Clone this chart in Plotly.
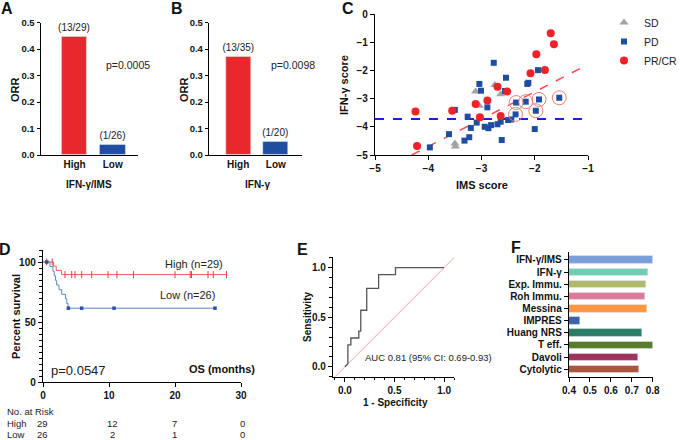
import plotly.graph_objects as go

# ---- data ----
# A / B: objective response rate
orr_groups = ["High", "Low"]
orr_a = [0.448, 0.0385]
orr_a_labels = ["(13/29)", "(1/26)"]
orr_b = [0.371, 0.05]
orr_b_labels = ["(13/35)", "(1/20)"]

# C: IMS score vs IFN-g score
sd_x = [-3.50, -3.49, -3.04, -3.11, -2.75, -2.64]
sd_y = [-4.59, -4.70, -3.25, -2.75, -2.52, -2.85]
pr_x = [-4.24, -4.21, -3.55, -3.11, -3.03, -2.89, -2.70, -2.52, -2.64, -2.08, -1.81, -1.97, -1.70, -1.64]
pr_y = [-3.46, -4.68, -3.43, -3.19, -3.66, -3.07, -2.58, -2.75, -3.62, -2.10, -1.99, -1.43, -0.68, -1.07]
pd_x = [-3.97, -3.50, -3.61, -3.32, -3.23, -3.26, -3.20, -3.09, -3.04, -3.01, -2.89, -2.94, -2.87, -2.77,
        -2.54, -2.56, -2.64, -2.70, -2.82, -2.50, -2.44, -2.62, -2.35, -2.36, -2.17, -1.92, -1.98, -1.54,
        -2.00, -2.14, -2.12, -1.94]
pd_y = [-4.73, -3.40, -4.26, -4.49, -4.37, -3.64, -4.04, -3.85, -2.48, -2.72, -3.31, -4.00, -4.05, -1.73,
        -2.26, -2.73, -3.82, -3.91, -3.94, -3.76, -3.74, -4.47, -3.14, -3.56, -3.11, -3.03, -3.43, -2.97,
        -4.08, -2.48, -2.44, -1.99]
circled_x = [-2.35, -2.36, -2.17, -1.92, -1.98, -1.54]
circled_y = [-3.14, -3.56, -3.11, -3.03, -3.43, -2.97]
fit_x = [-4.31, -1.0]
fit_y = [-5.0, -1.79]
cut_x = [-5.0, -1.0]
cut_y = [-3.72, -3.72]

# D: Kaplan-Meier OS
km_high_t = [0, 1.6, 2.0, 2.8, 27.8]
km_high_s = [100, 96.5, 93.0, 89.5, 89.5]
km_high_cens_t = [0.56, 1.4, 3.33, 4.35, 4.85, 5.86, 7.38, 9.85, 11.2, 13.7, 20.0, 22.3, 22.5, 25.0, 25.8, 27.8]
km_high_cens_s = [100, 100, 89.5, 89.5, 89.5, 89.5, 89.5, 89.5, 89.5, 89.5, 89.5, 89.5, 89.5, 89.5, 89.5, 89.5]
km_low_t = [0, 1.06, 1.5, 1.7, 1.9, 2.07, 2.42, 2.83, 3.4, 3.6, 3.8, 26.06]
km_low_s = [100, 96.2, 92.3, 88.5, 84.6, 80.8, 76.9, 73.1, 69.2, 65.4, 61.5, 61.5]
km_low_cens_t = [0.56, 3.84, 5.86, 10.76, 26.06]
km_low_cens_s = [100, 61.5, 61.5, 61.5, 61.5]
risk_high = ["29", "12", "7", "0"]
risk_low = ["26", "2", "1", "0"]

# E: ROC curve
roc_fpr = [0, 0.03, 0.03, 0.06, 0.06, 0.14, 0.14, 0.16, 0.16, 0.22, 0.22, 0.34, 0.34, 0.51, 0.51, 1.0]
roc_tpr = [0, 0.03, 0.22, 0.22, 0.29, 0.29, 0.36, 0.36, 0.57, 0.57, 0.79, 0.79, 0.93, 0.93, 1.0, 1.0]
diag = [-0.12, 1.1]

# F: AUC by signature
sig_names = ["IFN-γ/IMS", "IFN-γ", "Exp. Immu.", "Roh Immu.", "Messina", "IMPRES",
             "Huang NRS", "T eff.", "Davoli", "Cytolytic"]
sig_auc = [0.80, 0.779, 0.767, 0.763, 0.771, 0.453, 0.747, 0.80, 0.731, 0.736]
sig_colors = ["#7b9fd8", "#6fcdb1", "#b1b96e", "#dd7a9c", "#ff9642", "#3d62a6",
              "#2b7d66", "#5a7b2a", "#9e345e", "#a9563c"]

W, H = 680, 440
FONT = "Arial"


def px(x):
    return x / W


def py(y):
    return 1 - y / H


fig = go.Figure()

# A
fig.add_trace(go.Bar(x=orr_groups, y=orr_a, marker_color=["#e8282d", "#1f4ea0"], width=0.66,
                     text=orr_a_labels, textposition="outside", constraintext="none",
                     textfont=dict(size=10, color="#222"),
                     cliponaxis=False, xaxis="x", yaxis="y", showlegend=False))
# B
fig.add_trace(go.Bar(x=orr_groups, y=orr_b, marker_color=["#e8282d", "#1f4ea0"], width=0.665,
                     text=orr_b_labels, textposition="outside", constraintext="none",
                     textfont=dict(size=10, color="#222"),
                     cliponaxis=False, xaxis="x2", yaxis="y2", showlegend=False))

# C
fig.add_trace(go.Scatter(x=cut_x, y=cut_y, mode="lines", line=dict(color="#1f1fd6", width=2, dash="dash"),
                         xaxis="x3", yaxis="y3", showlegend=False))
fig.add_trace(go.Scatter(x=fit_x, y=fit_y, mode="lines", line=dict(color="#ff4a4a", width=1.5, dash="dash"),
                         xaxis="x3", yaxis="y3", showlegend=False))
fig.add_trace(go.Scatter(x=sd_x, y=sd_y, mode="markers", name="SD",
                         marker=dict(symbol="triangle-up", size=8, color="#a3a3a3"),
                         xaxis="x3", yaxis="y3"))
fig.add_trace(go.Scatter(x=pd_x, y=pd_y, mode="markers", name="PD",
                         marker=dict(symbol="square", size=6, color="#1f4ea0"),
                         xaxis="x3", yaxis="y3"))
fig.add_trace(go.Scatter(x=pr_x, y=pr_y, mode="markers", name="PR/CR",
                         marker=dict(symbol="circle", size=8, color="#ee2228"),
                         xaxis="x3", yaxis="y3"))
fig.add_trace(go.Scatter(x=circled_x, y=circled_y, mode="markers",
                         marker=dict(symbol="circle-open", size=14, color="#f08070", line=dict(width=1)),
                         xaxis="x3", yaxis="y3", showlegend=False))

# D
fig.add_trace(go.Scatter(x=km_high_t, y=km_high_s, mode="lines", line=dict(color="#f25a5a", width=1, shape="hv"),
                         xaxis="x4", yaxis="y4", showlegend=False))
fig.add_trace(go.Scatter(x=km_low_t, y=km_low_s, mode="lines", line=dict(color="#5a86c9", width=1, shape="hv"),
                         xaxis="x4", yaxis="y4", showlegend=False))
fig.add_trace(go.Scatter(x=km_high_cens_t, y=km_high_cens_s, mode="markers",
                         marker=dict(symbol="line-ns", size=5, line=dict(color="#f03c3c", width=1)),
                         xaxis="x4", yaxis="y4", showlegend=False, cliponaxis=False))
fig.add_trace(go.Scatter(x=km_low_cens_t, y=km_low_cens_s, mode="markers",
                         marker=dict(symbol="square", size=3.5, color="#2a52a3"),
                         xaxis="x4", yaxis="y4", showlegend=False, cliponaxis=False))

# E
fig.add_trace(go.Scatter(x=diag, y=diag, mode="lines", line=dict(color="#f4a0a0", width=1),
                         xaxis="x5", yaxis="y5", showlegend=False))
fig.add_trace(go.Scatter(x=roc_fpr, y=roc_tpr, mode="lines", line=dict(color="#555555", width=1.3),
                         xaxis="x5", yaxis="y5", showlegend=False))

# F
fig.add_trace(go.Bar(y=sig_names, x=sig_auc, orientation="h", marker_color=sig_colors, width=0.62,
                     xaxis="x6", yaxis="y6", showlegend=False))

tickfont = dict(family=FONT, size=10, color="#111", weight="bold")
ax = dict(showline=True, linecolor="black", linewidth=1.4, ticks="outside", ticklen=4, tickwidth=1.2,
          tickcolor="black", showgrid=False, zeroline=False, tickfont=tickfont, fixedrange=True)
small_tf = dict(tickfont, size=9.5)

fig.update_layout(
    width=W, height=H, margin=dict(l=0, r=0, t=0, b=0, autoexpand=False),
    paper_bgcolor="white", plot_bgcolor="white",
    font=dict(family=FONT, color="#111"),
    bargap=0,
    xaxis=dict(ax, domain=[px(40.7), px(138)], anchor="y", type="category", range=[-0.888, 1.662], ticks=""),
    yaxis=dict(ax, domain=[py(155), py(22.7)], anchor="x", range=[0, 0.5], dtick=0.1, tickformat=".1f",
               ticklen=3, tickfont=small_tf),
    xaxis2=dict(ax, domain=[px(209), px(302)], anchor="y2", type="category", range=[-0.777, 1.698], ticks=""),
    yaxis2=dict(ax, domain=[py(155), py(22.7)], anchor="x2", range=[0, 0.5], dtick=0.1, tickformat=".1f",
                ticklen=3, tickfont=small_tf),
    xaxis3=dict(ax, domain=[px(375), px(588)], anchor="y3", range=[-5, -1], dtick=1),
    yaxis3=dict(ax, domain=[py(155), py(14)], anchor="x3", range=[-5, 0], dtick=1),
    xaxis4=dict(ax, domain=[px(43), px(241)], anchor="y4", range=[0, 30], dtick=10),
    yaxis4=dict(ax, domain=[py(382), py(250)], anchor="x4", range=[0, 110], tickvals=[0, 50, 100],
                minor=dict(dtick=5, ticklen=2.5, ticks="outside", tickcolor="black")),
    xaxis5=dict(ax, domain=[px(333), px(454)], anchor="y5", range=[-0.12, 1.1], tickvals=[0, 0.5, 1.0],
                tickformat=".1f", minor=dict(dtick=0.1, tick0=0, ticklen=2.5, ticks="outside", tickcolor="black")),
    yaxis5=dict(ax, domain=[py(376.7), py(256.7)], anchor="x5", range=[-0.1, 1.11], tickvals=[0, 0.5, 1.0],
                tickformat=".1f", minor=dict(dtick=0.1, tick0=0, ticklen=2.5, ticks="outside", tickcolor="black")),
    xaxis6=dict(ax, domain=[px(569), px(652.7)], anchor="y6", range=[0.4, 0.8], dtick=0.1, tickformat=".1f"),
    yaxis6=dict(ax, domain=[py(376.7), py(251.7)], anchor="x6", type="category", range=[9.61, -0.68],
                tickmode="array", tickvals=sig_names),
    legend=dict(x=px(604), y=py(8), xanchor="left", yanchor="top", font=dict(size=10.5, color="#222"),
                bgcolor="rgba(0,0,0,0)", itemwidth=30, tracegroupgap=2),
)

ann = []


def text(x, y, s, size=10, bold=False, xanchor="center", angle=0, color="#111"):
    ann.append(dict(x=px(x), y=py(y), xref="paper", yref="paper", text=s, showarrow=False,
                    xanchor=xanchor, yanchor="middle", textangle=angle,
                    font=dict(family=FONT, size=size, color=color, weight="bold" if bold else "normal")))


# panel letters
for lab, lx, ly in [("A", 7, 8), ("B", 177, 8), ("C", 348, 8), ("D", 5, 249), ("E", 302, 249), ("F", 516, 247)]:
    text(lx, ly, lab, size=16, bold=True)

# A
text(15, 90, "ORR", size=11, bold=True, angle=-90)
text(89, 184, "IFN-γ/IMS", size=10, bold=True)
text(104, 65, "p=0.0005", size=10.5, xanchor="left", color="#222")
# B
text(184, 90, "ORR", size=11, bold=True, angle=-90)
text(257, 184, "IFN-γ", size=10, bold=True)
text(269, 65, "p=0.0098", size=10.5, xanchor="left", color="#222")
# C
text(482, 185, "IMS score", size=11, bold=True)
text(344, 85, "IFN-γ score", size=11, bold=True, angle=-90)
# D
text(16, 317, "Percent survival", size=11, bold=True, angle=-90)
text(194, 264, "High (n=29)", size=11, color="#222")
text(187, 295, "Low (n=26)", size=11, color="#222")
text(49, 370, "p=0.0547", size=13, xanchor="left", color="#222")
text(257, 369, "OS (months)", size=11, bold=True, xanchor="right")
text(5, 411, "No. at Risk", size=9.5, xanchor="left", color="#222")
text(5, 423.5, "High", size=9.5, xanchor="left", color="#222")
text(5, 434.5, "Low", size=9.5, xanchor="left", color="#222")
risk_cols = [42.7, 112, 175, 242]
for cx, hv, lv in zip(risk_cols, risk_high, risk_low):
    text(cx, 423.5, hv, size=9.5, color="#222")
    text(cx, 434.5, lv, size=9.5, color="#222")
# E
text(307, 317, "Sensitivity", size=10, bold=True, angle=-90)
text(395, 402, "1 - Specificity", size=10, bold=True)
text(363, 357, "AUC 0.81 (95% CI: 0.69-0.93)", size=9.5, xanchor="left", color="#222")

fig.update_layout(annotations=ann)

fig.write_html("out.html", config={"displayModeBar": False},
               post_script="document.body.style.margin='0';document.body.style.overflow='hidden';")
